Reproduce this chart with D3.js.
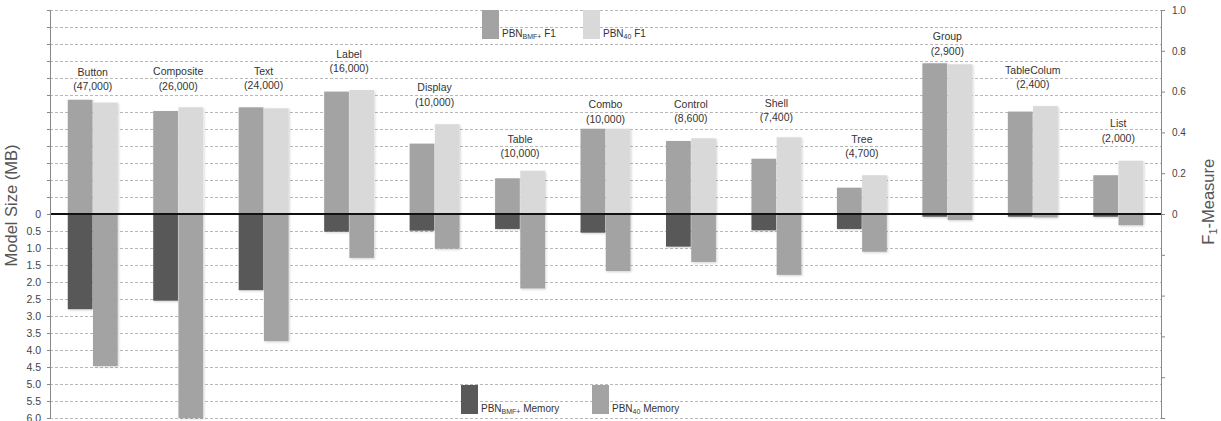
<!DOCTYPE html>
<html>
<head>
<meta charset="utf-8">
<script src="https://cdn.jsdelivr.net/npm/d3@7"></script>
<style>
  html, body { margin: 0; padding: 0; background: #fff; }
  svg { display: block; font-family: "Liberation Sans", Arial, Helvetica, sans-serif; }
</style>
</head>
<body>
<svg id="chart" width="1221" height="421"></svg>
<script>
// ---- data ----
const categories = ["Button","Composite","Text","Label","Display","Table","Combo","Control","Shell","Tree","Group","TableColum","List"];
const counts = ["47,000","26,000","24,000","16,000","10,000","10,000","10,000","8,600","7,400","4,700","2,900","2,400","2,000"];
const f1BMF = [0.56,0.505,0.523,0.60,0.345,0.175,0.418,0.358,0.271,0.129,0.739,0.502,0.19];
const f1P40 = [0.546,0.523,0.518,0.608,0.44,0.212,0.418,0.371,0.376,0.19,0.734,0.529,0.261];
const memBMF = [2.80,2.55,2.24,0.52,0.49,0.44,0.55,0.96,0.48,0.44,0.08,0.08,0.08];
const memP40 = [4.47,6.0,3.74,1.29,1.02,2.19,1.68,1.41,1.79,1.11,0.18,0.10,0.33];
// label anchor (F1 units, second line of label)
const labelAt = [0.627,0.629,0.632,0.714,0.55,0.298,0.466,0.469,0.474,0.298,0.80,0.637,0.374];
const memTicks = d3.range(-6, 6.001, 0.5);
const f1Ticks = d3.range(-1, 1.001, 0.2);

// ---- layout ----
const svg = d3.select("#chart");
const L = 50, R = 1161, T = 10, B = 418;
const x = d3.scaleBand().domain(categories).range([L, R]).padding(0);
const xs = d3.scaleBand().domain(["bmf","p40"]).range([0, x.bandwidth()]).paddingInner(0.02).paddingOuter(0.705);
const yMem = d3.scaleLinear().domain([-6, 6]).range([T, B]);
const yF1 = d3.scaleLinear().domain([-1, 1]).range([B, T]);

const C = { f1bmf: "#a3a3a3", f1p40: "#d9d9d9", membmf: "#595959", memp40: "#a3a3a3" };

// gridlines
svg.append("g").selectAll("line").data(memTicks).join("line")
  .attr("x1", L).attr("x2", R)
  .attr("y1", d => yMem(d) + 0.5).attr("y2", d => yMem(d) + 0.5)
  .attr("stroke", "#b8b8b8").attr("stroke-width", 1).attr("stroke-dasharray", "3,2");

// shadow filter
const defs = svg.append("defs");
const f = defs.append("filter").attr("id","sh").attr("x","-20%").attr("y","-20%").attr("width","140%").attr("height","140%");
f.append("feDropShadow").attr("dx",1).attr("dy",1).attr("stdDeviation",1).attr("flood-color","#000").attr("flood-opacity",0.18);

const bars = svg.append("g").attr("filter","url(#sh)");
// memory bars
bars.selectAll(".mb").data(categories).join("rect")
  .attr("x", (d) => x(d) + xs("bmf")).attr("width", xs.bandwidth())
  .attr("y", yMem(0)).attr("height", (d,i) => yMem(memBMF[i]) - yMem(0))
  .attr("fill", C.membmf);
bars.selectAll(".mp").data(categories).join("rect")
  .attr("x", (d) => x(d) + xs("p40")).attr("width", xs.bandwidth())
  .attr("y", yMem(0)).attr("height", (d,i) => yMem(memP40[i]) - yMem(0))
  .attr("fill", C.memp40);
// F1 bars
bars.selectAll(".fb").data(categories).join("rect")
  .attr("x", (d) => x(d) + xs("bmf")).attr("width", xs.bandwidth())
  .attr("y", (d,i) => yF1(f1BMF[i])).attr("height", (d,i) => yF1(0) - yF1(f1BMF[i]))
  .attr("fill", C.f1bmf);
bars.selectAll(".fp").data(categories).join("rect")
  .attr("x", (d) => x(d) + xs("p40")).attr("width", xs.bandwidth())
  .attr("y", (d,i) => yF1(f1P40[i])).attr("height", (d,i) => yF1(0) - yF1(f1P40[i]))
  .attr("fill", C.f1p40);

// zero line
svg.append("line").attr("x1", L).attr("x2", R).attr("y1", yMem(0)).attr("y2", yMem(0))
  .attr("stroke", "#111").attr("stroke-width", 2);

// left axis
const leftAxis = d3.axisLeft(yMem).tickValues(memTicks).tickSize(3).tickPadding(6)
  .tickFormat(d => d < -1e-9 ? "" : (Math.abs(d) < 1e-9 ? "0" : d3.format(".1f")(d)));
const gl = svg.append("g").attr("transform", `translate(${L},0)`).call(leftAxis);
gl.select(".domain").attr("stroke", "#888");
gl.selectAll(".tick line").attr("stroke", "#888");
gl.selectAll("text").attr("fill", "#444").attr("font-size", 10.5)
  .attr("font-family", "'Liberation Sans', Arial, sans-serif");

// right axis
const rightAxis = d3.axisRight(yF1).tickValues(f1Ticks).tickSize(4).tickPadding(7)
  .tickFormat(d => d < -1e-9 ? "" : (Math.abs(d) < 1e-9 ? "0" : d3.format(".1f")(d)));
const gr = svg.append("g").attr("transform", `translate(${R},0)`).call(rightAxis);
gr.select(".domain").attr("stroke", "#888");
gr.selectAll(".tick line").attr("stroke", "#888");
gr.selectAll("text").attr("fill", "#444").attr("font-size", 10)
  .attr("font-family", "'Liberation Sans', Arial, sans-serif");

// axis titles
svg.append("text").attr("transform", `translate(17,${yMem(-0.25)}) rotate(-90)`)
  .attr("text-anchor", "middle").attr("font-size", 16.5).attr("fill", "#555")
  .text("Model Size (MB)");
const ft = svg.append("text").attr("transform", `translate(1214,${yF1(0.06)}) rotate(-90)`)
  .attr("text-anchor", "middle").attr("font-size", 16.5).attr("fill", "#555");
ft.append("tspan").text("F");
ft.append("tspan").attr("font-size", 11).attr("dy", 3).text("1");
ft.append("tspan").attr("dy", -3).text("-Measure");

// category labels
const lab = svg.append("g").attr("font-size", 10.5).attr("fill", "#333").attr("text-anchor", "middle");
lab.selectAll(".n").data(categories).join("text")
  .attr("x", d => x(d) + x.bandwidth() / 2).attr("y", (d,i) => yF1(labelAt[i]) - 14.5 + 4)
  .text(d => d);
lab.selectAll(".c").data(categories).join("text")
  .attr("x", d => x(d) + x.bandwidth() / 2).attr("y", (d,i) => yF1(labelAt[i]) + 4)
  .text((d,i) => "(" + counts[i] + ")");

// legends
function legendItem(g, sx, sy, color, sub, tail) {
  g.append("rect").attr("x", sx).attr("y", sy).attr("width", 17).attr("height", 29).attr("fill", color);
  const t = g.append("text").attr("x", sx + 20).attr("y", sy + 27).attr("font-size", 10).attr("fill", "#333");
  t.append("tspan").text("PBN");
  t.append("tspan").attr("font-size", 7).attr("dy", 2).text(sub);
  t.append("tspan").attr("dy", -2).text(" " + tail);
}
const lg = svg.append("g");
legendItem(lg, 482, 10, C.f1bmf, "BMF+", "F1");
legendItem(lg, 583, 10, C.f1p40, "40", "F1");
legendItem(lg, 461, 385, C.membmf, "BMF+", "Memory");
legendItem(lg, 592, 385, C.memp40, "40", "Memory");
</script>
</body>
</html>
